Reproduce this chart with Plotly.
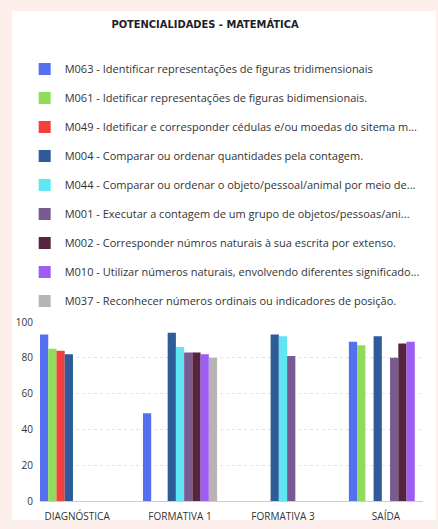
import plotly.graph_objects as go

stages = ["DIAGNÓSTICA", "FORMATIVA 1", "FORMATIVA 3", "SAÍDA"]

m063 = [93, 49, None, 89]
m061 = [85, None, None, 87]
m049 = [84, None, None, None]
m004 = [82, 94, 93, 92]
m044 = [None, 86, 92, None]
m001 = [None, 83, 81, 80]
m002 = [None, 83, None, 88]
m010 = [None, 82, None, 89]
m037 = [None, 80, None, None]

labels = [
    "M063 - Identificar representações de figuras tridimensionais",
    "M061 - Idetificar representações de figuras bidimensionais.",
    "M049 - Idetificar e corresponder cédulas e/ou moedas do sitema m...",
    "M004 - Comparar ou ordenar quantidades pela contagem.",
    "M044 - Comparar ou ordenar o objeto/pessoal/animal por meio de...",
    "M001 - Executar a contagem de um grupo de objetos/pessoas/ani...",
    "M002 - Corresponder númros naturais à sua escrita por extenso.",
    "M010 - Utilizar números naturais, envolvendo diferentes significado...",
    "M037 - Reconhecer números ordinais ou indicadores de posição.",
]
series = [m063, m061, m049, m004, m044, m001, m002, m010, m037]
colors = ["#5470f0", "#8fdc5a", "#f2403f", "#2e5c98", "#5ee6f2",
          "#7a5a92", "#56243f", "#9d5cf2", "#b8b4b4"]

fig = go.Figure()
for i, (name, vals, col) in enumerate(zip(labels, series, colors)):
    fig.add_trace(go.Bar(
        x=stages, y=vals, name=name, marker_color=col,
        marker_line_width=0, legendgroup=f"g{i}",
    ))

# white card over the pale dotted background
fig.add_shape(type="rect", xref="paper", yref="paper",
              x0=-0.073, x1=1.034, y0=-0.106, y1=2.738,
              fillcolor="white", line_width=0, layer="below")

fig.update_layout(
    width=438, height=529,
    margin=dict(l=40, r=15, t=322, b=28, autoexpand=False),
    paper_bgcolor="#fcefeb",
    plot_bgcolor="white",
    barmode="group",
    bargap=0.28,
    bargroupgap=0,
    font=dict(family="Open Sans, sans-serif", color="#333333", size=10),
    title=dict(text="<b>POTENCIALIDADES - MATEMÁTICA</b>",
               x=205 / 438, xanchor="center", y=1 - 24 / 529, yanchor="middle",
               font=dict(family="DejaVu Sans Condensed, sans-serif",
                         size=11, color="#1d1d2b")),
    legend=dict(orientation="v", x=-0.04, xanchor="left", y=2.495, yanchor="top",
                tracegroupgap=10, font=dict(size=11, color="#333333"),
                bgcolor="rgba(0,0,0,0)"),
    showlegend=True,
)
fig.update_xaxes(range=[-0.36, 3.36], showgrid=False, showline=True,
                 linecolor="#cccccc", linewidth=1, ticks="",
                 ticklabelstandoff=6,
                 tickfont=dict(size=10, color="#333333"))
fig.update_yaxes(range=[0, 100], dtick=20, showgrid=True, gridcolor="#e6e0e0",
                 griddash="dot", zeroline=False, showline=False,
                 ticklabelstandoff=6,
                 tickfont=dict(size=10, color="#333333"))

# drop the default body margin so the figure sits at the window's corner
fig.write_html("out.html", config={"displayModeBar": False},
               post_script="document.body.style.margin='0';")
